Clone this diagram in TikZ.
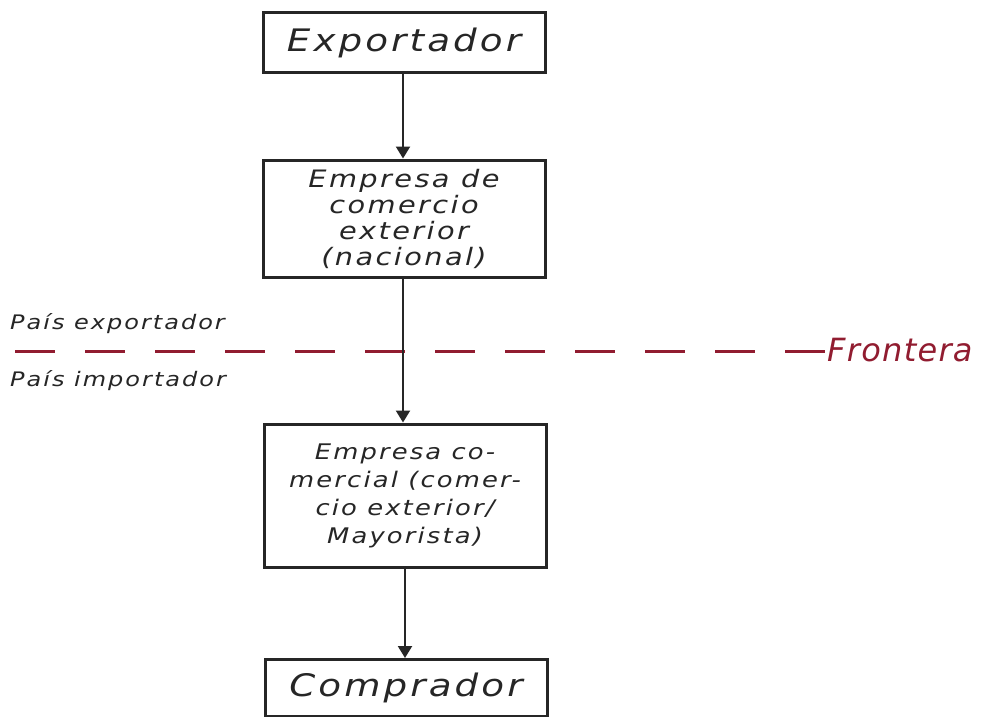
\documentclass[tikz,border=0pt]{standalone}
\usepackage{fontspec}
\newfontfamily\handfont[LetterSpace=10, FakeStretch=1.2]{DejaVu Sans}
\newfontfamily\plainhand[LetterSpace=4]{DejaVu Sans}
\usetikzlibrary{arrows.meta}
\definecolor{borderred}{RGB}{145,28,48}
\begin{document}
\begin{tikzpicture}[x=1pt,y=-1pt,
  stage/.style={draw=black!85, line width=3pt, minimum width=282pt, inner sep=0pt, text=black!85},
  flow/.style={draw=black!85, line width=2.2pt, -{Triangle[length=12pt,width=14pt]}},
  side/.style={anchor=west, inner sep=0pt, text=black!85, font=\handfont\itshape\fontsize{20}{24}\selectfont}]
\useasboundingbox (0,0) rectangle (1006,717);
\fill[white] (0,0) rectangle (1006,717);

% stages of the export chain
\node[stage, minimum height=59pt, font=\handfont\itshape\fontsize{31}{34}\selectfont] (exp) at (404,42.5) {Exportador};
\node[stage, minimum height=117pt, align=center, font=\handfont\itshape\fontsize{24}{26}\selectfont] (ece) at (404,218.5) {Empresa de\\comercio\\exterior\\(nacional)};
\node[stage, minimum height=143pt, align=center, font=\handfont\itshape\fontsize{21.5}{28}\selectfont] (emc) at (405,495.5) {Empresa co-\\mercial (comer-\\cio exterior/\\Mayorista)};
\node[stage, minimum height=57pt, font=\handfont\itshape\fontsize{31}{34}\selectfont] (com) at (406,688) {Comprador};

% border between the two countries
\node[anchor=west, font=\plainhand\itshape\fontsize{32}{36}\selectfont, text=borderred, inner sep=0pt] (fro) at (827,350) {Frontera};
\coordinate (bstart) at (15,351);
\draw[borderred, line width=3pt, dash pattern=on 40pt off 30pt] (bstart) -- (fro.west |- bstart);

\node[side] (pexp) at (10,324) {País exportador};
\node[side] (pimp) at (10,381) {País importador};

% flow of goods
\draw[flow] (exp.south -| 403,0) -- (ece.north -| 403,0);
\draw[flow] (ece.south -| 403,0) -- (emc.north -| 403,0);
\draw[flow] (emc.south -| 405,0) -- (com.north -| 405,0);
\end{tikzpicture}
\end{document}
